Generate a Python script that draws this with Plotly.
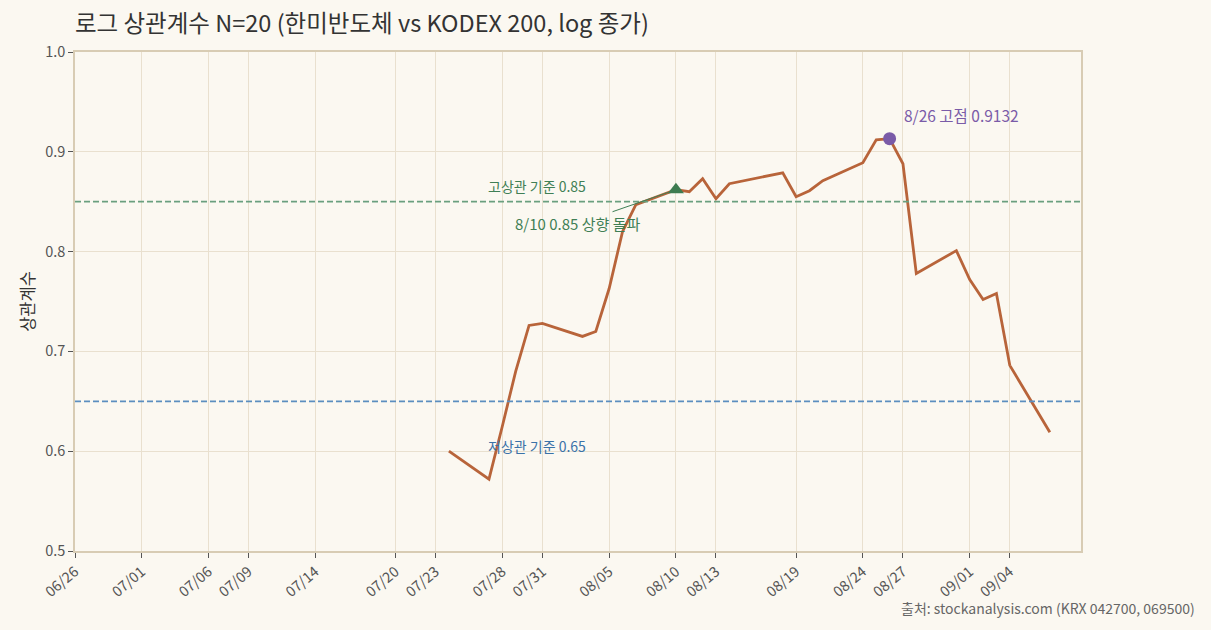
import pandas as pd
import plotly.graph_objects as go

# rolling 20-day log-return correlation
dates = [
    "2026-07-24", "2026-07-27", "2026-07-28", "2026-07-29", "2026-07-30",
    "2026-07-31", "2026-08-03", "2026-08-04", "2026-08-05", "2026-08-06",
    "2026-08-07", "2026-08-10", "2026-08-11", "2026-08-12", "2026-08-13",
    "2026-08-14", "2026-08-18", "2026-08-19", "2026-08-20", "2026-08-21",
    "2026-08-24", "2026-08-25", "2026-08-26", "2026-08-27", "2026-08-28",
    "2026-08-31", "2026-09-01", "2026-09-02", "2026-09-03", "2026-09-04",
    "2026-09-07",
]
corr = [
    0.600, 0.572, 0.625, 0.680, 0.726,
    0.728, 0.715, 0.720, 0.763, 0.820,
    0.847, 0.862, 0.860, 0.873, 0.853,
    0.868, 0.879, 0.855, 0.861, 0.871,
    0.889, 0.912, 0.9132, 0.888, 0.778,
    0.801, 0.772, 0.752, 0.758, 0.686,
    0.619,
]

tick_dates = [
    "2026-06-26", "2026-07-01", "2026-07-06", "2026-07-09", "2026-07-14",
    "2026-07-20", "2026-07-23", "2026-07-28", "2026-07-31", "2026-08-05",
    "2026-08-10", "2026-08-13", "2026-08-19", "2026-08-24", "2026-08-27",
    "2026-09-01", "2026-09-04",
]
tick_labels = [d[5:].replace("-", "/") for d in tick_dates]

high_level = 0.85
low_level = 0.65
cross_date, cross_val = "2026-08-10", 0.862
peak_date, peak_val = "2026-08-26", 0.9132

df = pd.DataFrame({"date": pd.to_datetime(dates), "corr": corr})

LINE = "#b8643a"
GREEN = "#6a9f7f"
GREEN_TXT = "#3f7f55"
BLUE = "#5b8ec0"
BLUE_TXT = "#3a72a8"
PURPLE = "#7a5ba8"
GRID = "#e9e0cf"
AXIS = "#d8ccb4"
BG = "#fbf8f1"
FONT = "Noto Sans CJK KR"

fig = go.Figure()

fig.add_trace(go.Scatter(
    x=df["date"], y=df["corr"], mode="lines",
    line=dict(color=LINE, width=2.8), showlegend=False, hoverinfo="x+y",
))

# threshold lines
fig.add_hline(y=high_level, line=dict(color=GREEN, width=1.7, dash="6px,3px"))
fig.add_hline(y=low_level, line=dict(color=BLUE, width=1.7, dash="6px,3px"))

# markers for the break-out and the peak
fig.add_trace(go.Scatter(
    x=[cross_date], y=[cross_val], mode="markers",
    marker=dict(symbol="triangle-up", size=14, color="#3d7b50"),
    showlegend=False,
))
fig.add_trace(go.Scatter(
    x=[peak_date], y=[peak_val], mode="markers",
    marker=dict(symbol="circle", size=13, color=PURPLE),
    showlegend=False,
))

fig.add_annotation(x="2026-07-30 14:00", y=high_level, yshift=16,
                   text=f"고상관 기준 {high_level}", showarrow=False,
                   font=dict(color=GREEN_TXT, size=14))
fig.add_annotation(x="2026-07-30 14:00", y=0.605,
                   text=f"저상관 기준 {low_level}", showarrow=False,
                   font=dict(color=BLUE_TXT, size=14))
fig.add_annotation(x=cross_date, y=cross_val, ax=-98, ay=34,
                   text="8/10 0.85 상향 돌파", showarrow=True,
                   arrowhead=0, arrowwidth=1, arrowcolor=GREEN_TXT, standoff=8,
                   font=dict(color=GREEN_TXT, size=15))
fig.add_annotation(x=peak_date, y=peak_val, xanchor="left", xshift=12, yshift=24,
                   text=f"8/26 고점 {peak_val}", showarrow=False,
                   font=dict(color=PURPLE, size=15.5))

fig.add_annotation(xref="paper", yref="paper", x=1.1153, y=-0.114,
                   xanchor="right", yanchor="middle", showarrow=False,
                   text="출처: stockanalysis.com (KRX 042700, 069500)",
                   font=dict(color="#666666", size=14))

fig.update_layout(
    width=1211, height=630,
    margin=dict(l=75, r=130, t=52, b=79),
    paper_bgcolor=BG, plot_bgcolor=BG,
    font=dict(family=FONT, color="#555555", size=14),
    title=dict(text="로그 상관계수 N=20 (한미반도체 vs KODEX 200, log 종가)",
               x=75 / 1211, xanchor="left", y=1 - 24 / 630, yanchor="middle",
               xref="container", yref="container",
               font=dict(size=23.5, color="#333333")),
    xaxis=dict(
        type="date", range=["2026-06-26", "2026-09-09 08:00"],
        tickvals=tick_dates, ticktext=tick_labels, tickangle=-40,
        showgrid=True, gridcolor=GRID, gridwidth=1,
        showline=True, linecolor=AXIS, linewidth=1.5, mirror=True,
        ticks="outside", ticklen=5, tickcolor="#555555",
        tickfont=dict(size=14.5, color="#555555"), zeroline=False,
    ),
    yaxis=dict(
        range=[0.5, 1.0], dtick=0.1, tickformat=".1f",
        title=dict(text="상관계수", font=dict(size=16.5, color="#333333"), standoff=6),
        showgrid=True, gridcolor=GRID, gridwidth=1,
        showline=True, linecolor=AXIS, linewidth=1.5, mirror=True,
        ticks="outside", ticklen=5, tickcolor="#555555",
        tickfont=dict(size=14.5, color="#555555"), zeroline=False,
    ),
)

# drop the browser's default page margin so the figure fills the window
fig.write_html(
    "out.html",
    config={"displayModeBar": False},
    post_script=f"document.body.style.margin='0';document.body.style.background='{BG}';",
)
